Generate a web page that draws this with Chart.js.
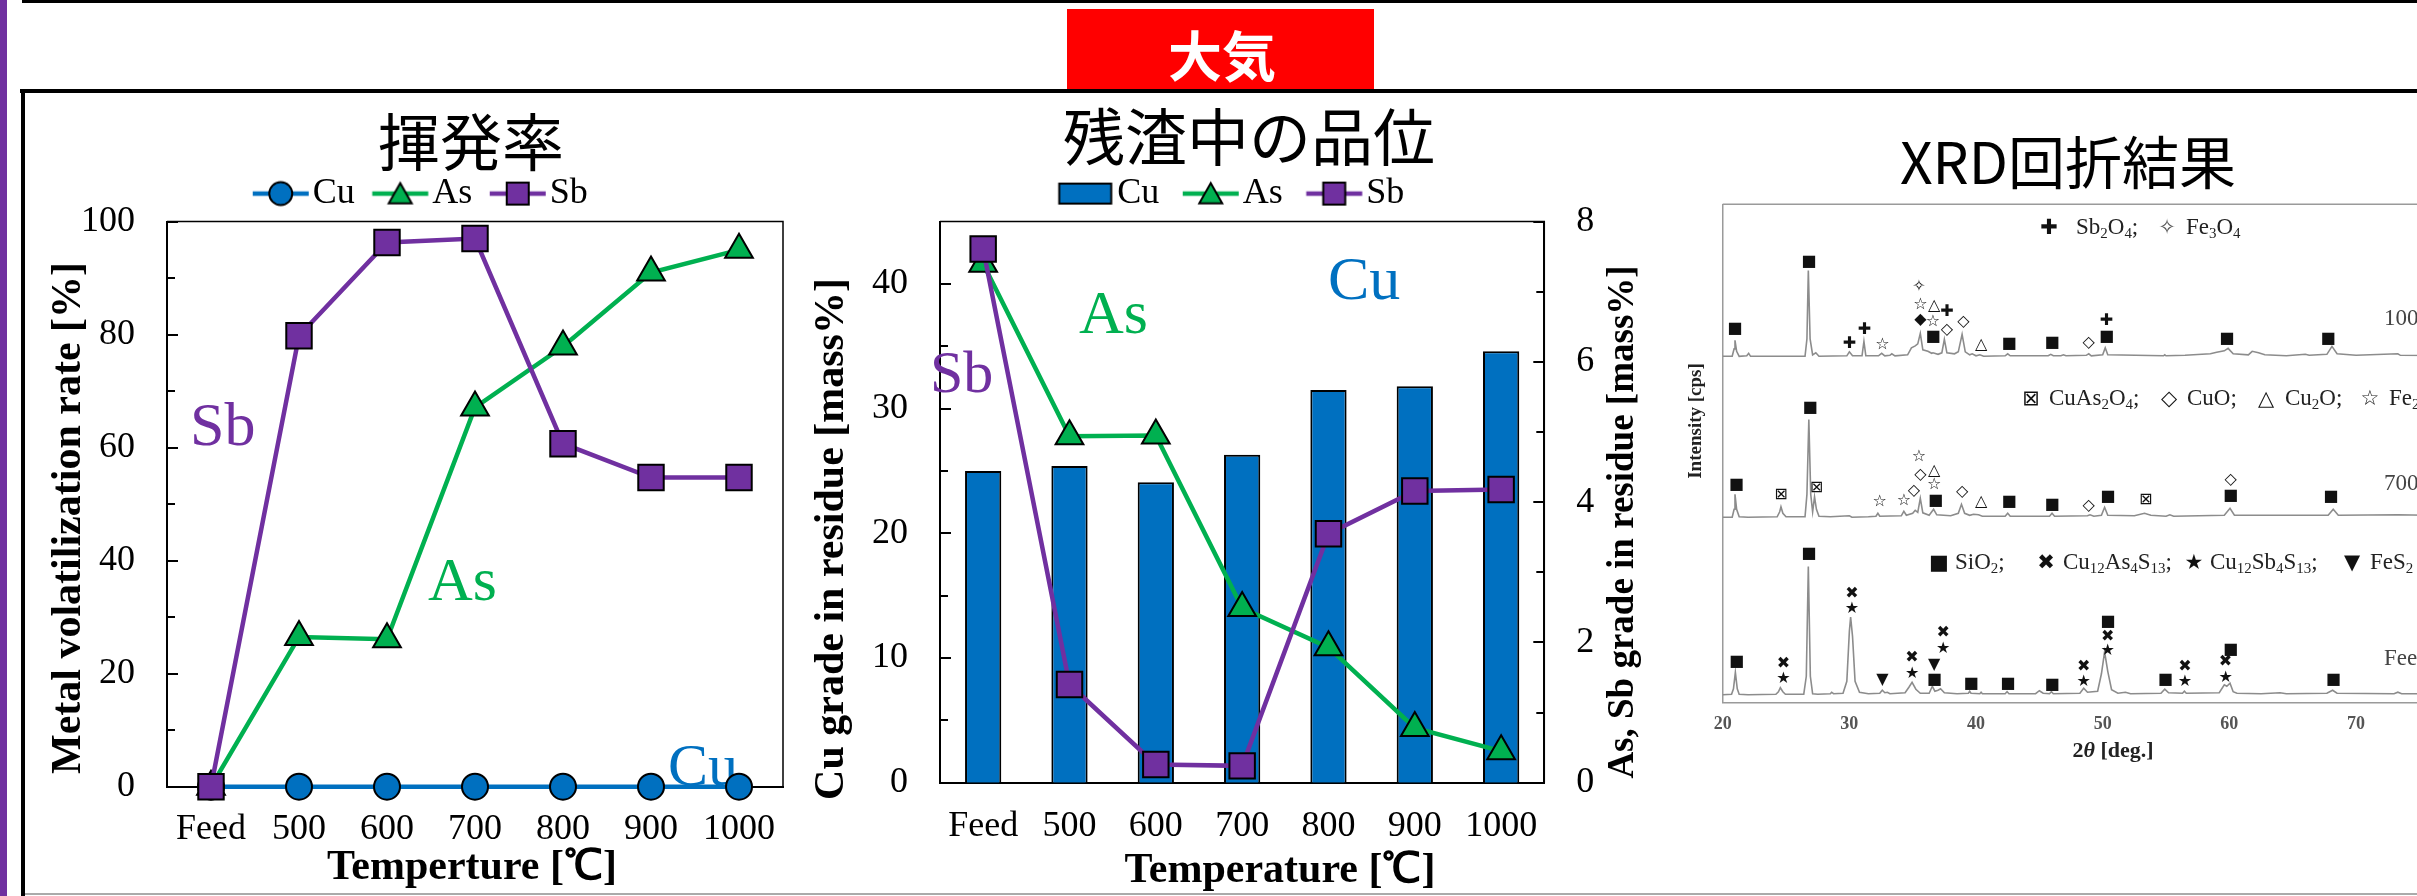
<!DOCTYPE html>
<html lang="ja">
<head>
<meta charset="utf-8">
<title>大気 焙焼試験</title>
<script src="https://cdn.jsdelivr.net/npm/chart.js@4.4.1/dist/chart.umd.min.js"></script>
<style>
  html, body { margin: 0; padding: 0; background: #fff; }
  body { width: 2417px; height: 896px; position: relative; overflow: hidden; }
  .abs { position: absolute; }
  canvas { position: absolute; }
  .ttl { position: absolute; transform: translate(-50%, -50%); font-family: "Noto Sans CJK JP", sans-serif; line-height: 1; white-space: nowrap; color: #000; }
  .xl { position: absolute; font-family: "Liberation Serif", serif; font-size: 23px; line-height: 28px; color: #222; white-space: nowrap; }
  .xs { position: absolute; font-family: "DejaVu Sans", sans-serif; font-size: 21px; line-height: 28px; transform: translateX(-50%); color: #111; white-space: nowrap; }
  .sb { font-size: 0.65em; vertical-align: -0.3em; line-height: 0; }
</style>
</head>
<body>
<!-- slide frame -->
<div class="abs" style="left:0;top:0;width:7px;height:896px;background:#7030a0"></div>
<div class="abs" style="left:22px;top:0;width:2395px;height:3px;background:#000"></div>
<div class="abs" style="left:1067px;top:9px;width:307px;height:80px;background:#ff0000"></div>
<div class="ttl" style="left:1222px;top:54px;font-size:54px;font-weight:bold;color:#fff">大気</div>
<div class="abs" style="left:20px;top:89px;width:2397px;height:4px;background:#000"></div>
<div class="abs" style="left:21px;top:89px;width:4px;height:807px;background:#000"></div>
<div class="abs" style="left:25px;top:893px;width:2392px;height:2px;background:#aaa"></div>

<div class="ttl" style="left:471px;top:139px;font-size:62px">揮発率</div>
<div class="ttl" style="left:1249px;top:134px;font-size:62px">残渣中の品位</div>
<div class="ttl" style="left:2068px;top:159px;font-size:57px">XRD回折結果</div>

<canvas id="vol" width="790" height="728" style="left:30px;top:168px"></canvas>
<canvas id="grade" width="870" height="728" style="left:800px;top:168px"></canvas>
<canvas id="xrd" width="900" height="728" style="left:1660px;top:168px"></canvas>

<!-- XRD phase keys -->
<div class="xs" style="left:2049px;top:213px">✚</div>
<div class="xl" style="left:2076px;top:213px">Sb<span class="sb">2</span>O<span class="sb">4</span>;</div>
<div class="xs" style="left:2167px;top:213px;color:#555">✧</div>
<div class="xl" style="left:2186px;top:213px">Fe<span class="sb">3</span>O<span class="sb">4</span></div>

<div class="xs" style="left:2031px;top:384px">⊠</div>
<div class="xl" style="left:2049px;top:384px">CuAs<span class="sb">2</span>O<span class="sb">4</span>;</div>
<div class="xs" style="left:2169px;top:384px">◇</div>
<div class="xl" style="left:2187px;top:384px">CuO;</div>
<div class="xs" style="left:2266px;top:384px">△</div>
<div class="xl" style="left:2285px;top:384px">Cu<span class="sb">2</span>O;</div>
<div class="xs" style="left:2370px;top:384px">☆</div>
<div class="xl" style="left:2389px;top:384px">Fe<span class="sb">2</span>O<span class="sb">3</span></div>

<div class="xs" style="left:1939px;top:548px">■</div>
<div class="xl" style="left:1955px;top:548px">SiO<span class="sb">2</span>;</div>
<div class="xs" style="left:2046px;top:548px">✖</div>
<div class="xl" style="left:2063px;top:548px">Cu<span class="sb">12</span>As<span class="sb">4</span>S<span class="sb">13</span>;</div>
<div class="xs" style="left:2194px;top:548px">★</div>
<div class="xl" style="left:2210px;top:548px">Cu<span class="sb">12</span>Sb<span class="sb">4</span>S<span class="sb">13</span>;</div>
<div class="xs" style="left:2352px;top:548px">▼</div>
<div class="xl" style="left:2370px;top:548px">FeS<span class="sb">2</span></div>

<div class="xl" style="left:2384px;top:304px;color:#444">1000</div>
<div class="xl" style="left:2384px;top:469px;color:#444">700</div>
<div class="xl" style="left:2384px;top:644px;color:#444">Feed</div>

<script>
// ---------------- data ----------------
var temps = ['Feed', '500', '600', '700', '800', '900', '1000'];

// 揮発率 [%]
var volCu = [0, 0, 0, 0, 0, 0, 0];
var volAs = [0, 26.5, 26.1, 67.1, 77.9, 91.0, 95.0];
var volSb = [0, 79.8, 96.3, 97.0, 60.7, 54.7, 54.7];
var volMajor = [0, 20, 40, 60, 80, 100];
var volMinor = [10, 30, 50, 70, 90];

// 残渣中の品位 [mass%]
var gradeCu = [25.0, 25.4, 24.1, 26.3, 31.5, 31.8, 34.6];
var gradeAs = [7.40, 4.94, 4.95, 2.49, 1.93, 0.78, 0.45];
var gradeSb = [7.61, 1.40, 0.26, 0.24, 3.55, 4.16, 4.18];
var cuMajor = [0, 10, 20, 30, 40];
var cuMinor = [5, 15, 25, 35];
var asSbMajor = [0, 2, 4, 6, 8];
var asSbMinor = [1, 3, 5, 7];

// XRD patterns: [2theta, intensity above own baseline]
var xrdFeed = [[20,0.3],[20.7,0.4],[20.85,1.5],[21.0,4.8],[21.15,1.5],[21.3,0.4],[22,0.3],[24.2,0.4],[24.4,0.9],[24.55,1.7],[24.75,0.9],[24.95,0.4],
  [26.4,0.4],[26.6,4],[26.76,26],[26.92,4],[27.1,0.5],[27.5,0.4],[28.5,0.5],[28.6,0.8],[28.75,0.5],[29.5,0.6],[29.8,3],[30.0,13],[30.1,15.9],[30.25,12],
  [30.45,3],[30.8,0.8],[31.5,0.5],[32.4,0.6],[32.6,1.2],[32.8,0.7],[33.0,0.8],[33.2,0.5],[34.4,0.7],[34.7,1.8],[34.95,2.8],[35.25,1.4],[35.6,0.6],
  [36.3,0.6],[36.55,2.0],[36.75,1.0],[37.0,1.2],[37.2,1.5],[37.5,0.7],[38.5,0.5],[39.4,0.6],[39.5,1.0],[39.6,0.6],[40.3,0.5],[40.4,0.8],[40.5,0.5],
  [42.3,0.5],[42.45,0.9],[42.6,0.5],[44.7,0.5],[45.0,1.1],[45.3,0.6],[45.8,0.5],[45.95,0.9],[46.1,0.5],[48.2,0.6],[48.5,1.6],[48.8,0.8],[49.6,1.0],
  [49.9,4.5],[50.15,8.9],[50.4,5],[50.7,1.3],[51.2,0.6],[51.8,0.8],[52.2,0.5],[54.6,0.6],[54.9,1.4],[55.2,0.7],[56.3,0.6],[56.45,1.0],[56.6,0.6],
  [59.2,0.7],[59.6,2.3],[59.8,2.0],[60.05,2.6],[60.3,0.9],[60.6,0.6],[62.5,0.5],[64.0,0.7],[64.5,0.5],[67.7,0.6],[68.15,1.2],[68.5,0.6],[73,0.5],
  [73.3,0.8],[73.6,0.5],[80,0.5]];
var xrd700 = [[20,0.4],[20.75,0.4],[20.9,2],[20.97,5.0],[21.1,2],[21.3,0.5],[22,0.4],[24.3,0.5],[24.5,1.5],[24.6,2.5],[24.75,1.2],[25,0.5],
  [26.5,0.5],[26.65,5],[26.8,20],[26.95,5],[27.1,1.5],[27.25,4.5],[27.4,2.0],[27.6,0.6],[28.5,0.5],[30.0,0.7],[30.2,0.4],[31.5,0.5],[32.1,0.6],
  [32.25,1.2],[32.4,0.6],[34.1,0.7],[34.3,1.6],[34.5,0.8],[35.0,1.2],[35.2,1.8],[35.4,1.4],[35.6,4.2],[35.8,1.3],[36.3,0.8],[36.65,2.0],[36.9,0.9],
  [38.0,0.7],[38.6,1.2],[38.85,3.0],[39.1,1.2],[39.5,0.8],[39.8,1.0],[40.2,0.9],[40.5,0.6],[42.3,0.6],[42.5,1.2],[42.7,0.6],[45.8,0.6],[46.0,1.2],
  [46.2,0.6],[48.8,0.7],[49.0,0.9],[49.3,0.6],[49.9,0.8],[50.15,2.4],[50.4,0.8],[52.5,0.7],[53.3,1.2],[53.8,0.8],[55,0.6],[55.3,0.9],[55.6,0.6],
  [59.6,0.8],[60.05,2.2],[60.4,0.8],[67.8,0.8],[68.2,2.0],[68.6,0.8],[73.3,0.9],[80,0.6]];
var xrd1000 = [[20,0.5],[20.75,0.5],[20.9,2],[20.97,3.7],[21.1,1.5],[21.3,0.5],[21.9,0.6],[22.05,1.1],[22.2,0.5],[26.5,0.5],[26.65,4],[26.76,17.7],
  [26.9,4],[27.1,0.8],[27.35,1.2],[27.6,0.5],[29.8,0.6],[30.0,1.4],[30.25,0.6],[31.0,0.6],[31.15,3.5],[31.3,0.6],[32.3,0.6],[32.55,1.1],[32.8,0.6],
  [33.2,0.7],[33.35,1.0],[33.6,0.6],[34.6,0.8],[34.9,2.2],[35.2,2.6],[35.4,3.0],[35.6,5.1],[35.8,1.8],[36.2,1.5],[36.5,1.1],[36.6,1.2],[37.0,0.9],
  [37.3,1.2],[37.5,3.9],[37.7,1.2],[38.3,1.0],[38.6,1.4],[38.9,4.9],[39.15,1.4],[39.5,0.8],[39.7,1.0],[40.0,0.6],[40.3,0.8],[40.6,0.5],[42.3,0.6],
  [42.5,1.0],[42.7,0.6],[45.7,0.6],[45.9,0.9],[46.1,0.6],[46.7,0.6],[46.9,0.8],[47.1,0.6],[48.7,0.7],[48.9,1.0],[49.1,0.6],[50.0,0.8],[50.2,2.2],
  [50.4,0.8],[54.8,0.6],[54.9,0.8],[55,0.6],[56.5,0.7],[58.5,1.0],[59.0,1.3],[59.6,1.6],[59.9,2.1],[60.3,1.0],[61.5,0.8],[61.8,1.5],[62.3,1.2],
  [62.8,0.8],[64.5,0.6],[66.0,0.9],[66.3,0.7],[67.7,0.9],[68.1,2.5],[68.5,1.0],[70.0,0.7],[73.3,1.0],[73.5,0.7],[80,0.6]];

// phase marks over peaks: [2theta, height above baseline, symbol]
var marksFeed = [[21.1,6.8,'■'],[24.8,6.4,'✖'],[24.8,3.5,'★'],[26.8,28.5,'■'],[30.2,20.5,'✖'],[30.2,17.5,'★'],[32.6,3.2,'▼'],
  [34.95,7.6,'✖'],[34.95,4.5,'★'],[36.7,6.3,'▼'],[36.7,3.2,'■'],[37.4,12.7,'✖'],[37.4,9.6,'★'],[39.6,2.5,'■'],[42.5,2.5,'■'],
  [46.0,2.3,'■'],[48.5,5.9,'✖'],[48.5,2.8,'★'],[50.4,14.9,'■'],[50.4,12.0,'✖'],[50.4,9.1,'★'],[54.95,3.2,'■'],[56.5,5.9,'✖'],
  [56.5,2.8,'★'],[59.7,6.8,'✖'],[59.7,3.7,'★'],[60.1,9.3,'■'],[68.2,3.2,'■']];
var marks700 = [[21.07,7.0,'■'],[24.6,4.9,'⊠'],[26.9,22.3,'■'],[27.4,6.4,'⊠'],[32.4,3.4,'☆'],[34.3,3.7,'☆'],[35.5,12.5,'☆'],
  [35.6,9.0,'◇'],[36.7,9.8,'△'],[36.7,7.0,'☆'],[35.1,5.7,'◇'],[36.8,3.7,'■'],[38.9,5.5,'◇'],[40.4,3.4,'△'],[42.6,3.4,'■'],
  [46.0,2.9,'■'],[48.9,2.7,'◇'],[50.4,4.5,'■'],[53.4,3.9,'⊠'],[60.1,7.9,'◇'],[60.1,4.7,'■'],[68.0,4.5,'■']];
var marks1000 = [[20.96,6.1,'■'],[26.8,19.5,'■'],[30.0,3.0,'✚'],[31.2,5.8,'✚'],[32.6,2.9,'☆'],[35.5,14.4,'✧'],[35.6,10.9,'☆'],
  [36.7,10.7,'△'],[37.7,9.4,'✚'],[35.6,7.8,'◆'],[36.6,7.4,'☆'],[36.6,4.4,'■'],[37.7,5.9,'◇'],[39.0,7.4,'◇'],[40.4,2.9,'△'],
  [42.6,3.1,'■'],[46.0,3.3,'■'],[48.9,3.3,'◇'],[50.3,7.6,'✚'],[50.3,4.4,'■'],[59.8,4.0,'■'],[67.8,4.0,'■']];

// stacking offsets of the three patterns
var offFeed = 1.3, off700 = 36.8, off1000 = 69.0;

// ---------------- helpers ----------------
var serif = "'Liberation Serif', 'Times New Roman', serif";
var colors = { Cu: '#0070c0', As: '#00b050', Sb: '#7030a0' };

// draws texts given in page coordinates
function textLayer(origin, items) {
  return {
    id: 'texts',
    beforeDatasetsDraw: function(chart) {
      var ctx = chart.ctx;
      items.forEach(function(t) {
        ctx.save();
        ctx.translate(t.x - origin[0], t.y - origin[1]);
        if (t.rot) ctx.rotate(t.rot);
        ctx.fillStyle = t.color || '#000';
        ctx.textBaseline = 'alphabetic';
        if (t.parts) {
          var w = 0;
          t.parts.forEach(function(p) { ctx.font = p.f; w += ctx.measureText(p.t).width; });
          var x = -w / 2;
          ctx.textAlign = 'left';
          t.parts.forEach(function(p) { ctx.font = p.f; ctx.fillText(p.t, x, 0); x += ctx.measureText(p.t).width; });
        } else {
          ctx.font = t.font;
          ctx.textAlign = t.align || 'left';
          ctx.fillText(t.text, 0, 0);
        }
        ctx.restore();
      });
    }
  };
}

// plot frame (top/right) and inward tick marks
var frameTicks = {
  id: 'frameTicks',
  beforeDatasetsDraw: function(chart, args, opts) {
    var a = chart.chartArea, ctx = chart.ctx;
    ctx.save();
    ctx.strokeStyle = opts.color;
    ctx.lineWidth = opts.width;
    ctx.beginPath();
    ctx.moveTo(a.left, a.top);
    ctx.lineTo(a.right, a.top);
    ctx.lineTo(a.right, a.bottom);
    ctx.stroke();
    ctx.lineWidth = 2;
    (opts.ticks || []).forEach(function(t) {
      var sc = chart.scales[t.scale];
      var x0 = t.side === 'left' ? a.left : a.right;
      var dir = t.side === 'left' ? 1 : -1;
      t.values.forEach(function(v) {
        var y = Math.round(sc.getPixelForValue(v));
        ctx.beginPath();
        ctx.moveTo(x0, y);
        ctx.lineTo(x0 + dir * t.len, y);
        ctx.stroke();
      });
    });
    ctx.restore();
  }
};

var xrdMarks = {
  id: 'xrdMarks',
  afterDatasetsDraw: function(chart, args, opts) {
    var xs = chart.scales.x, ys = chart.scales.y, ctx = chart.ctx;
    ctx.save();
    ctx.font = '16px "DejaVu Sans"';
    ctx.textAlign = 'center';
    ctx.textBaseline = 'middle';
    ctx.fillStyle = '#111';
    opts.sets.forEach(function(s) {
      s.marks.forEach(function(m) {
        ctx.fillText(m[2], xs.getPixelForValue(m[0]), ys.getPixelForValue(m[1] + s.offset));
      });
    });
    ctx.restore();
  }
};

// legend icons: line + marker, or bar box
function legendIcon(G, draw) {
  var S = 56, T = 4, H = 18;
  var W = G + S + T - H;
  var I = Math.ceil(2 * (S + G) - W + 2);
  var c = document.createElement('canvas');
  c.width = I; c.height = 36;
  draw(c.getContext('2d'), I / 2 - W / 2 + G, 18, S);
  return c;
}
function lineIcon(color, marker, size) {
  return function(g, x0, cy, S) {
    g.strokeStyle = color; g.lineWidth = 4.5;
    g.beginPath(); g.moveTo(x0, cy); g.lineTo(x0 + S, cy); g.stroke();
    var cx = x0 + S / 2;
    g.fillStyle = color; g.strokeStyle = '#000'; g.lineWidth = 2;
    g.beginPath();
    if (marker === 'circle') g.arc(cx, cy, size / 2, 0, Math.PI * 2);
    else if (marker === 'triangle') { g.moveTo(cx, cy - size * 0.46); g.lineTo(cx + size / 2, cy + size * 0.42); g.lineTo(cx - size / 2, cy + size * 0.42); g.closePath(); }
    else g.rect(cx - size / 2, cy - size / 2, size, size);
    g.fill(); g.stroke();
  };
}
function boxIcon(color) {
  return function(g, x0, cy, S) {
    g.fillStyle = color; g.strokeStyle = '#000'; g.lineWidth = 2;
    g.beginPath(); g.rect(x0 + 2, cy - 10, S - 4, 20); g.fill(); g.stroke();
  };
}
function legendItem(text, icon, i) {
  return { text: text, pointStyle: icon, fillStyle: '#000', strokeStyle: '#000', lineWidth: 0, hidden: false, datasetIndex: i };
}

function lineSet(label, data, color, style, radius, order, axis) {
  var d = {
    type: 'line', label: label, data: data, order: order,
    borderColor: color, backgroundColor: color, borderWidth: 4.5, tension: 0,
    pointStyle: style, pointRadius: radius, pointHoverRadius: radius,
    pointBackgroundColor: color, pointBorderColor: '#000', pointBorderWidth: 2,
    clip: false
  };
  if (axis) d.yAxisID = axis;
  return d;
}

function tickFont(size, weight) { return { family: serif, size: size, weight: weight || 'normal' }; }

// ---------------- 揮発率 ----------------
var G1 = 17.5;
new Chart(document.getElementById('vol'), {
  type: 'line',
  data: {
    labels: temps,
    datasets: [
      lineSet('Cu', volCu, colors.Cu, 'circle', 13, 2),
      lineSet('As', volAs, colors.As, 'triangle', 16, 1),
      lineSet('Sb', volSb, colors.Sb, 'rect', 18, 0)
    ]
  },
  options: {
    responsive: false, animation: false, devicePixelRatio: 1, events: [],
    layout: { padding: { top: 6, left: 10, right: 37, bottom: 0 } },
    plugins: {
      tooltip: { enabled: false },
      legend: {
        labels: {
          usePointStyle: true, pointStyleWidth: G1 + 56 + 4 - 18, padding: 0, color: '#000', font: tickFont(36),
          generateLabels: function() {
            return [
              legendItem('Cu', legendIcon(G1, lineIcon(colors.Cu, 'circle', 23)), 0),
              legendItem('As', legendIcon(G1, lineIcon(colors.As, 'triangle', 23)), 1),
              legendItem('Sb', legendIcon(G1, lineIcon(colors.Sb, 'rect', 22)), 2)
            ];
          }
        }
      },
      frameTicks: { color: '#000', width: 1.5, ticks: [
        { scale: 'y', side: 'left', values: volMajor, len: 11 },
        { scale: 'y', side: 'left', values: volMinor, len: 8 }
      ] }
    },
    scales: {
      x: {
        offset: true,
        grid: { display: false, drawTicks: false },
        border: { color: '#000', width: 2 },
        ticks: { font: tickFont(36), color: '#000', padding: 21, maxRotation: 0, autoSkip: false },
        afterFit: function(s) { s.height = 109.3; }
      },
      y: {
        min: 0, max: 100,
        grid: { display: false, drawTicks: false },
        border: { color: '#000', width: 2 },
        ticks: { stepSize: 20, font: tickFont(36), color: '#000', padding: 32 },
        afterFit: function(s) { s.width = 127; }
      }
    }
  },
  plugins: [frameTicks, textLayer([30, 168], [
    { text: 'Sb', x: 190, y: 445, font: '62px ' + serif, color: colors.Sb },
    { text: 'As', x: 428, y: 600, font: '62px ' + serif, color: colors.As },
    { text: 'Cu', x: 668, y: 785, font: '60px ' + serif, color: colors.Cu },
    { text: 'Metal volatilization rate [%]', x: 80, y: 518, rot: -Math.PI / 2, align: 'center', font: 'bold 42px ' + serif },
    { text: 'Temperture [℃]', x: 472, y: 879, align: 'center', font: 'bold 42px ' + serif }
  ])]
});

// ---------------- 残渣中の品位 ----------------
var G2 = 23.5;
new Chart(document.getElementById('grade'), {
  type: 'bar',
  data: {
    labels: temps,
    datasets: [
      {
        type: 'bar', label: 'Cu', data: gradeCu, yAxisID: 'y', order: 2,
        backgroundColor: colors.Cu, borderColor: '#000', borderWidth: 2,
        barPercentage: 0.42, categoryPercentage: 1
      },
      lineSet('As', gradeAs, colors.As, 'triangle', 16, 1, 'y1'),
      lineSet('Sb', gradeSb, colors.Sb, 'rect', 18, 0, 'y1')
    ]
  },
  options: {
    responsive: false, animation: false, devicePixelRatio: 1, events: [],
    layout: { padding: { top: 5, left: 0, right: 32, bottom: 0 } },
    plugins: {
      tooltip: { enabled: false },
      legend: {
        labels: {
          usePointStyle: true, pointStyleWidth: G2 + 56 + 4 - 18, padding: 0, color: '#000', font: tickFont(36),
          generateLabels: function() {
            return [
              legendItem('Cu', legendIcon(G2, boxIcon(colors.Cu)), 0),
              legendItem('As', legendIcon(G2, lineIcon(colors.As, 'triangle', 23)), 1),
              legendItem('Sb', legendIcon(G2, lineIcon(colors.Sb, 'rect', 22)), 2)
            ];
          }
        }
      },
      frameTicks: { color: '#000', width: 1.5, ticks: [
        { scale: 'y', side: 'left', values: cuMajor, len: 11 },
        { scale: 'y', side: 'left', values: cuMinor, len: 8 },
        { scale: 'y1', side: 'right', values: asSbMajor, len: 11 },
        { scale: 'y1', side: 'right', values: asSbMinor, len: 8 }
      ] }
    },
    scales: {
      x: {
        grid: { display: false, drawTicks: false },
        border: { color: '#000', width: 2 },
        ticks: { font: tickFont(36), color: '#000', padding: 22, maxRotation: 0, autoSkip: false },
        afterFit: function(s) { s.height = 113.3; }
      },
      y: {
        position: 'left', min: 0, max: 45,
        grid: { display: false, drawTicks: false },
        border: { color: '#000', width: 2 },
        ticks: {
          stepSize: 10, font: tickFont(36), color: '#000', padding: 32,
          callback: function(v) { return cuMajor.indexOf(v) >= 0 ? v : ''; }
        },
        afterFit: function(s) { s.width = 140; }
      },
      y1: {
        position: 'right', min: 0, max: 8,
        grid: { display: false, drawTicks: false },
        border: { color: '#000', width: 2 },
        ticks: { stepSize: 2, font: tickFont(36), color: '#000', padding: 32 },
        afterFit: function(s) { s.width = 93.7; }
      }
    }
  },
  plugins: [frameTicks, textLayer([800, 168], [
    { text: 'Sb', x: 930, y: 392, font: '60px ' + serif, color: colors.Sb },
    { text: 'As', x: 1079, y: 333, font: '62px ' + serif, color: colors.As },
    { text: 'Cu', x: 1328, y: 299, font: '62px ' + serif, color: colors.Cu },
    { text: 'Cu grade in residue [mass%]', x: 843, y: 539, rot: -Math.PI / 2, align: 'center', font: 'bold 42px ' + serif },
    { text: 'As, Sb grade in residue [mass%]', x: 1633, y: 522, rot: -Math.PI / 2, align: 'center', font: 'bold 37px ' + serif },
    { text: 'Temperature [℃]', x: 1280, y: 882, align: 'center', font: 'bold 42px ' + serif }
  ])]
});

// ---------------- XRD ----------------
function trace(points, off) {
  return {
    data: points.map(function(p) { return { x: p[0], y: p[1] + off }; }),
    borderColor: '#8c8c8c', borderWidth: 1.6, pointRadius: 0, tension: 0
  };
}
new Chart(document.getElementById('xrd'), {
  type: 'line',
  data: { datasets: [trace(xrd1000, off1000), trace(xrd700, off700), trace(xrdFeed, offFeed)] },
  options: {
    responsive: false, animation: false, devicePixelRatio: 1, events: [],
    layout: { padding: { top: 36.3, left: 0, right: 77.3, bottom: 0 } },
    plugins: {
      legend: { display: false },
      tooltip: { enabled: false },
      frameTicks: { color: '#9a9a9a', width: 1.5, ticks: [] },
      xrdMarks: { sets: [
        { marks: marks1000, offset: off1000 },
        { marks: marks700, offset: off700 },
        { marks: marksFeed, offset: offFeed }
      ] }
    },
    scales: {
      x: {
        type: 'linear', min: 20, max: 80,
        grid: { display: false, drawTicks: false },
        border: { color: '#9a9a9a', width: 1.5 },
        ticks: { stepSize: 10, font: tickFont(18, 'bold'), color: '#555', padding: 11 },
        afterFit: function(s) { s.height = 193.3; }
      },
      y: {
        min: 0, max: 100,
        grid: { display: false, drawTicks: false },
        border: { color: '#9a9a9a', width: 1.5 },
        ticks: { display: false },
        afterFit: function(s) { s.width = 62.7; }
      }
    }
  },
  plugins: [frameTicks, xrdMarks, textLayer([1660, 168], [
    { text: 'Intensity [cps]', x: 1701, y: 421, rot: -Math.PI / 2, align: 'center', font: 'bold 19px ' + serif, color: '#222' },
    { x: 2113, y: 757, color: '#222', parts: [
      { t: '2', f: 'bold 22px ' + serif },
      { t: 'θ', f: 'italic bold 22px ' + serif },
      { t: ' [deg.]', f: 'bold 22px ' + serif }
    ] }
  ])]
});
</script>
</body>
</html>
